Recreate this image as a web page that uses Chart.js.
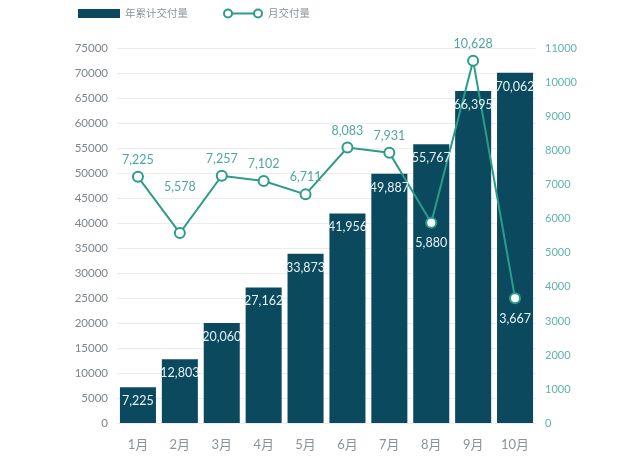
<!DOCTYPE html>
<html><head><meta charset="utf-8">
<script src="https://cdn.jsdelivr.net/npm/chart.js@4"></script>
<style>html,body{margin:0;padding:0;background:#fff}#c{display:block}</style>
</head><body>
<canvas id="c" width="640" height="463"></canvas>
<script>
const categories = ['1月','2月','3月','4月','5月','6月','7月','8月','9月','10月'];
const cumulative = [7225, 12803, 20060, 27162, 33873, 41956, 49887, 55767, 66395, 70062];
const monthly = [7225, 5578, 7257, 7102, 6711, 8083, 7931, 5880, 10628, 3667];
const seriesNames = ['年累计交付量','月交付量'];

const BAR = '#0b4a5e', LINE = '#2b9c89', LBL = '#4fa79c';
const FONT = 'Lato, "Noto Sans CJK SC", sans-serif';
const fmt = v => v.toLocaleString('en-US');
// label placement for the monthly line (plugin styling, not data)
const lineLabelDy = { 1: -46, 7: 20, 9: 21 };
const lineLabelInBar = { 7: true, 9: true };

const labelsPlugin = {
  id: 'labels',
  afterDatasetsDraw(chart) {
    const ctx = chart.ctx;
    ctx.save();
    ctx.textAlign = 'center'; ctx.textBaseline = 'middle';
    ctx.font = '12.5px ' + FONT;
    chart.getDatasetMeta(1).data.forEach((el, i) => {
      ctx.fillStyle = '#e6f2f3';
      ctx.fillText(fmt(cumulative[i]), el.x, el.y + 14);
    });
    chart.getDatasetMeta(0).data.forEach((el, i) => {
      const dy = lineLabelDy[i] !== undefined ? lineLabelDy[i] : -17;
      ctx.fillStyle = lineLabelInBar[i] ? '#e6f2f3' : LBL;
      ctx.fillText(fmt(monthly[i]), el.x, el.y + dy);
    });
    // legend
    ctx.fillStyle = BAR; ctx.fillRect(78, 9, 42, 9);
    ctx.font = '10.5px ' + FONT; ctx.textAlign = 'left'; ctx.fillStyle = '#8a9399';
    ctx.fillText(seriesNames[0], 125, 14);
    ctx.fillText(seriesNames[1], 268, 14);
    ctx.strokeStyle = LINE; ctx.lineWidth = 2;
    ctx.beginPath(); ctx.moveTo(232, 13.5); ctx.lineTo(254, 13.5); ctx.stroke();
    ctx.fillStyle = '#fff';
    [228, 258].forEach(x => { ctx.beginPath(); ctx.arc(x, 13.5, 4, 0, Math.PI*2); ctx.fill(); ctx.stroke(); });
    ctx.restore();
  }
};

new Chart(document.getElementById('c'), {
  data: {
    labels: categories,
    datasets: [
      { type: 'line', label: seriesNames[1], data: monthly, yAxisID: 'y1', order: 0,
        borderColor: LINE, borderWidth: 2, pointRadius: 5, pointBorderWidth: 2,
        pointBackgroundColor: '#fff', pointBorderColor: LINE, tension: 0 },
      { type: 'bar', label: seriesNames[0], data: cumulative, yAxisID: 'y', order: 1,
        backgroundColor: BAR, barPercentage: 0.86, categoryPercentage: 1 }
    ]
  },
  options: {
    responsive: false, animation: false,
    layout: { padding: { top: 48, left: 0, right: 0, bottom: 4 } },
    plugins: { legend: { display: false }, tooltip: { enabled: false } },
    scales: {
      x: { grid: { display: false }, border: { display: false },
           ticks: { color: '#8a9399', font: { size: 13, family: FONT }, padding: 6 } },
      y: { position: 'left', min: 0, max: 75000,
           ticks: { stepSize: 5000, color: '#7d868c', font: { size: 11.5, family: FONT }, padding: 9, callback: v => String(v) },
           grid: { color: '#ececec', drawTicks: false }, border: { display: false },
           afterFit(s) { s.width = 117; } },
      y1: { position: 'right', min: 0, max: 11000,
           ticks: { stepSize: 1000, color: '#5fb3ab', font: { size: 11, family: FONT }, padding: 9, callback: v => String(v) },
           grid: { display: false, drawTicks: false }, border: { display: false },
           afterFit(s) { s.width = 104; } }
    }
  },
  plugins: [labelsPlugin]
});
</script>
</body></html>
